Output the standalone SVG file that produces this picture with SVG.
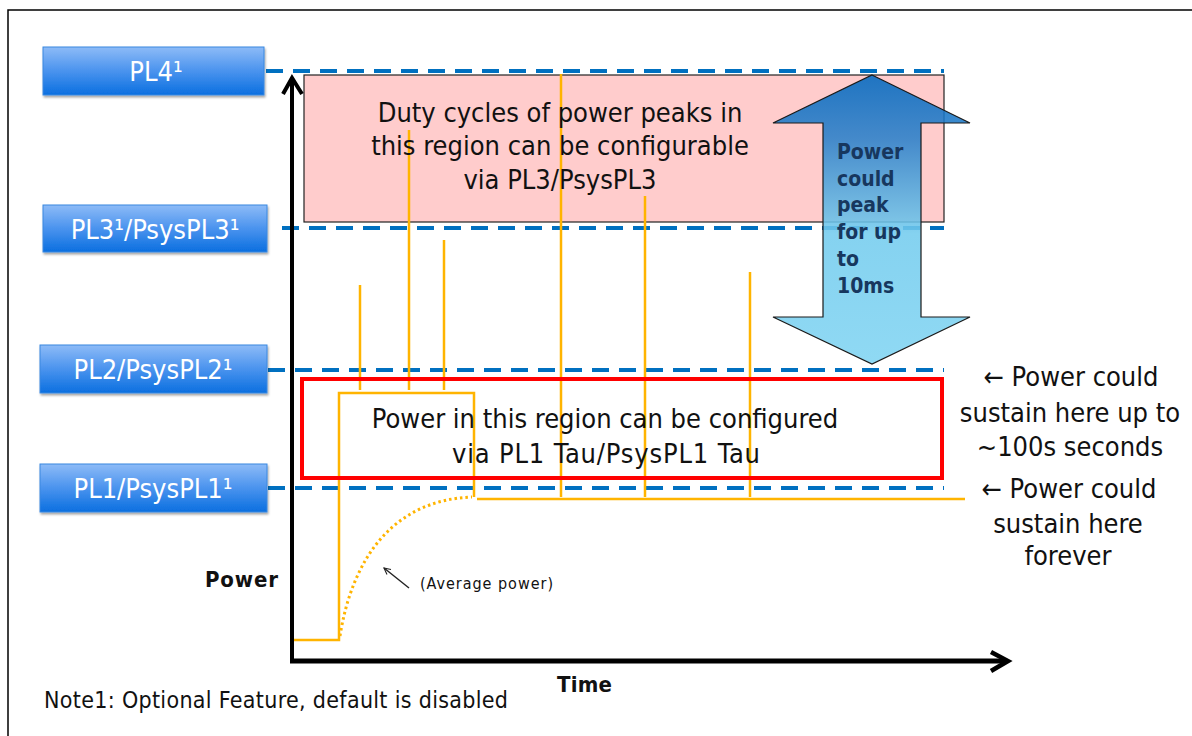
<svg xmlns="http://www.w3.org/2000/svg" width="1192" height="736" viewBox="0 0 1192 736">
<defs>
  <linearGradient id="lbl" x1="0" y1="0" x2="0" y2="1">
    <stop offset="0" stop-color="#8DBBF7"/>
    <stop offset="0.5" stop-color="#4A93EE"/>
    <stop offset="1" stop-color="#0B6FE0"/>
  </linearGradient>
  <linearGradient id="arr" x1="0" y1="75" x2="0" y2="364" gradientUnits="userSpaceOnUse">
    <stop offset="0" stop-color="#0068C0"/>
    <stop offset="0.22" stop-color="#2A80CA"/>
    <stop offset="0.55" stop-color="#74CCEE"/>
    <stop offset="1" stop-color="#80D4F2"/>
  </linearGradient>
  <filter id="sh" x="-5%" y="-10%" width="110%" height="130%">
    <feDropShadow dx="1" dy="2" stdDeviation="1.2" flood-color="#000" flood-opacity="0.35"/>
  </filter>
  <marker id="chev" viewBox="0 0 10 10" refX="9" refY="5" markerWidth="8" markerHeight="8" orient="auto" markerUnits="userSpaceOnUse">
    <path d="M1,1 L9,5 L1,9" fill="none" stroke="#222" stroke-width="1.4"/>
  </marker>
</defs>
<style>
  .lbl { fill: url(#lbl); stroke: #3A88E0; stroke-width: 1; filter: url(#sh); }
  .lt { font-family: "DejaVu Sans Condensed", "DejaVu Sans", sans-serif; font-stretch: condensed; font-size: 27px; fill: #fff; text-anchor: middle; }
  .dash { stroke: #0070C0; stroke-width: 4; stroke-dasharray: 17 10; fill: none; }
  .or { stroke: #FFB400; stroke-width: 2.5; fill: none; }
  .t { font-family: "DejaVu Sans Condensed", "DejaVu Sans", sans-serif; font-stretch: condensed; fill: #111; }
  .c { text-anchor: middle; }
  .b { font-weight: bold; }
</style>
<rect width="1192" height="736" fill="#fff"/>
<path d="M8,736 V10 H1192" fill="none" stroke="#000" stroke-width="1.5"/>

<g id="dashed-levels">
  <line class="dash" x1="266" y1="71" x2="944" y2="71"/>
  <line class="dash" x1="282" y1="228" x2="944" y2="228"/>
  <line class="dash" x1="268" y1="370" x2="944" y2="370"/>
  <line class="dash" x1="268" y1="488" x2="944" y2="488"/>
</g>

<g id="pl3-region">
  <rect x="304" y="75" width="640" height="147" fill="#FFCCCC" stroke="#222" stroke-width="1.2"/>
</g>

<g id="power-trace">
  <line class="or" x1="360" y1="285" x2="360" y2="390"/>
  <line class="or" x1="409" y1="130" x2="409" y2="390" stroke="#F5A300"/>
  <line class="or" x1="444" y1="240" x2="444" y2="390"/>
  <line class="or" x1="561" y1="74" x2="561" y2="497" stroke="#F5A300"/>
  <line class="or" x1="645" y1="196" x2="645" y2="497" stroke="#F5A300"/>
  <line class="or" x1="750" y1="272" x2="750" y2="497"/>
  <path class="or" d="M292,640 H339 V393 H474 V497"/>
  <line class="or" x1="477" y1="499" x2="965" y2="499"/>
  <path d="M340,636 C352,560 392,500 472,497" fill="none" stroke="#FFB400" stroke-width="3" stroke-dasharray="2.5 3"/>
</g>

<g id="pl1-region">
  <rect x="302" y="379" width="640" height="99" fill="none" stroke="#FF0000" stroke-width="4"/>
  <text class="t c" x="605" y="428" font-size="27">Power in this region can be configured</text>
  <text class="t c" x="606" y="463" font-size="27" textLength="308">via PL1 Tau/PsysPL1 Tau</text>
</g>

<g id="pl3-text">
  <text class="t c" x="560" y="122" font-size="27">Duty cycles of power peaks in</text>
  <text class="t c" x="560" y="155" font-size="27">this region can be configurable</text>
  <text class="t c" x="560" y="189" font-size="27">via PL3/PsysPL3</text>
</g>

<g id="peak-arrow">
  <path d="M872,75 L970,123 L921,123 L921,317 L970,317 L872,364 L773,317 L823,317 L823,123 L773,123 Z" fill="url(#arr)" fill-opacity="0.88" stroke="#1A1A1A" stroke-width="1.2"/>
  <g class="t b" font-size="21">
    <text x="837" y="159" fill="#17375E">Power</text>
    <text x="837" y="186" fill="#17375E">could</text>
    <text x="837" y="212" fill="#17375E">peak</text>
    <text x="837" y="239" fill="#17375E">for up</text>
    <text x="837" y="266" fill="#17375E">to</text>
    <text x="837" y="293" fill="#17375E">10ms</text>
  </g>
</g>

<g id="axes">
  <line x1="292" y1="662" x2="292" y2="80" stroke="#000" stroke-width="4"/>
  <path d="M283,94 L292,78 L302,94" fill="none" stroke="#000" stroke-width="4" stroke-linejoin="miter"/>
  <line x1="290" y1="661" x2="1006" y2="661" stroke="#000" stroke-width="5"/>
  <path d="M991,652 L1008,661 L991,671" fill="none" stroke="#000" stroke-width="4.5"/>
  <text class="t b" x="205" y="587" font-size="22" textLength="73">Power</text>
  <text class="t b" x="557" y="692" font-size="22" textLength="55">Time</text>
</g>

<g id="label-pl4">
  <rect class="lbl" x="43" y="47" width="221" height="48"/>
  <text class="lt" x="156" y="81">PL4¹</text>
</g>
<g id="label-pl3">
  <rect class="lbl" x="43" y="205" width="224" height="47"/>
  <text class="lt" x="155" y="239">PL3¹/PsysPL3¹</text>
</g>
<g id="label-pl2">
  <rect class="lbl" x="40" y="345" width="227" height="48"/>
  <text class="lt" x="153" y="379">PL2/PsysPL2¹</text>
</g>
<g id="label-pl1">
  <rect class="lbl" x="40" y="464" width="227" height="48"/>
  <text class="lt" x="153" y="498">PL1/PsysPL1¹</text>
</g>

<g id="avg-annotation">
  <line x1="409" y1="588" x2="384" y2="568" stroke="#222" stroke-width="1.4" marker-end="url(#chev)"/>
  <text class="t" x="420" y="589" font-size="16" fill="#1F2A44" textLength="133">(Average power)</text>
</g>

<g id="right-notes">
  <text class="t c" x="1071" y="386" font-size="27">← Power could</text>
  <text class="t c" x="1070" y="422" font-size="27">sustain here up to</text>
  <text class="t c" x="1070" y="456" font-size="27">~100s seconds</text>
  <text class="t c" x="1069" y="498" font-size="27">← Power could</text>
  <text class="t c" x="1068" y="533" font-size="27">sustain here</text>
  <text class="t c" x="1068" y="565" font-size="27">forever</text>
</g>

<text class="t" x="44" y="708" font-size="23" textLength="464">Note1: Optional Feature, default is disabled</text>
</svg>
